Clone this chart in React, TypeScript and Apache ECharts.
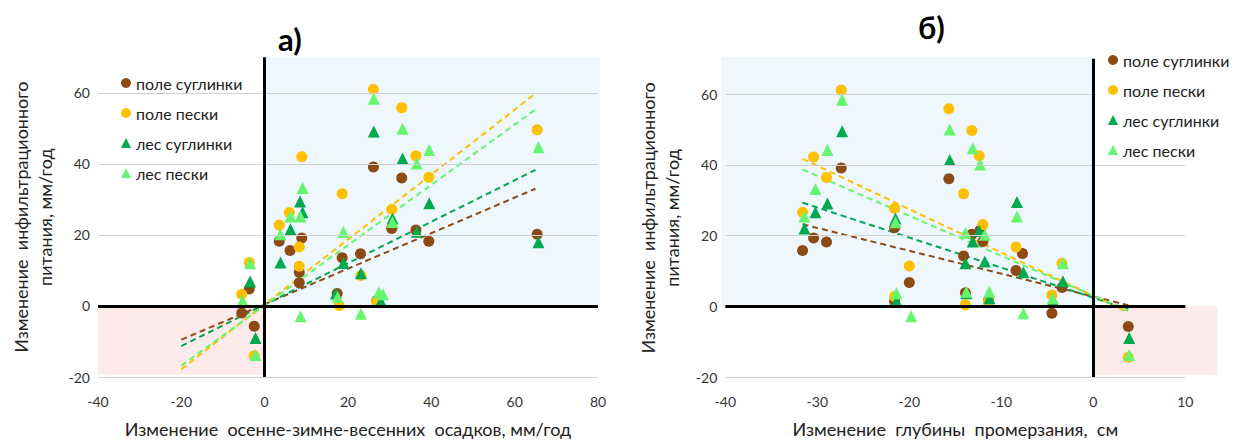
import React, { useEffect, useRef } from "react";
import * as echarts from "echarts";

const seriesNames = ["поле суглинки", "поле пески", "лес суглинки", "лес пески"];
const seriesColors = ["#8C4A14", "#FFC000", "#00A84F", "#66F56E"];
const seriesSymbols = ["circle", "circle", "triangle", "triangle"];

// Chart а): change of autumn-winter-spring precipitation vs change of infiltration recharge
const leftFieldLoam = [[-3.7,4.8],[-5.5,-2.0],[-2.5,-5.7],[3.5,18.2],[6.1,15.6],[8.9,19.1],[8.3,9.5],[8.3,6.5],[17.4,3.5],[18.6,13.6],[23.0,14.7],[26.1,39.1],[26.9,1.5],[30.5,21.8],[32.9,36.0],[36.3,21.4],[39.4,18.2],[65.4,20.2]];
const leftFieldSand = [[-3.7,12.2],[-5.5,3.3],[-2.5,-14.0],[3.5,22.8],[5.9,26.3],[8.3,16.6],[8.3,11.2],[8.9,42.0],[17.9,0.1],[18.6,31.6],[23.1,8.6],[26.1,61.0],[26.9,1.3],[30.5,27.2],[32.9,55.8],[36.3,42.3],[39.4,36.2],[65.4,49.6]];
const leftForestLoam = [[-3.5,6.9],[-2.2,-9.0],[3.8,12.2],[6.2,21.6],[8.5,29.4],[9.1,26.4],[17.1,3.5],[18.9,12.1],[23.1,9.2],[26.2,49.1],[27.9,1.3],[30.7,24.6],[33.1,41.5],[36.5,20.9],[39.5,28.9],[65.7,17.9]];
const leftForestSand = [[-3.5,12.0],[-5.3,1.5],[-2.2,-13.8],[3.8,20.2],[6.2,25.2],[8.6,25.2],[9.1,33.2],[8.6,-2.9],[17.5,2.5],[18.9,20.8],[23.1,-2.2],[26.2,58.3],[27.4,3.8],[28.4,3.3],[30.7,23.6],[33.1,49.9],[36.5,40.1],[39.5,43.9],[65.7,44.7]];
const leftTrends = [
  [[-20,-9.5],[65,33.0]],
  [[-20,-17.8],[65,59.8]],
  [[-20,-11.3],[65,38.3]],
  [[-20,-16.8],[65,55.3]],
];

// Chart б): change of freezing depth vs change of infiltration recharge
const rightFieldLoam = [[-31.6,15.8],[-30.4,19.3],[-29.0,18.2],[-27.4,39.1],[-21.6,22.2],[-21.6,1.4],[-20.0,6.7],[-15.7,36.1],[-14.1,14.2],[-13.9,3.8],[-13.2,20.4],[-12.3,21.5],[-12.0,18.3],[-11.4,1.6],[-8.4,10.1],[-7.7,14.9],[-4.5,-2.0],[-3.4,5.3],[3.8,-5.7]];
const rightFieldSand = [[-31.6,26.6],[-30.4,42.2],[-29.0,36.4],[-27.4,61.2],[-21.6,27.7],[-21.6,2.8],[-20.0,11.4],[-15.7,55.9],[-14.1,31.8],[-13.9,0.4],[-13.2,49.7],[-12.4,42.6],[-12.0,23.1],[-11.4,1.2],[-8.4,16.8],[-4.5,3.2],[-3.4,12.2],[3.8,-14.4]];
const rightForestLoam = [[-31.4,22.0],[-30.2,26.6],[-28.9,29.1],[-27.3,49.5],[-21.5,24.8],[-21.4,1.4],[-15.6,41.4],[-13.9,12.2],[-13.8,3.7],[-13.1,18.3],[-12.4,21.4],[-11.8,12.7],[-11.3,2.3],[-8.3,29.5],[-7.6,9.6],[-4.4,1.8],[-3.3,7.1],[3.9,-9.0]];
const rightForestSand = [[-31.4,25.4],[-30.2,33.2],[-28.9,44.2],[-27.3,58.4],[-21.5,23.8],[-21.4,3.7],[-19.8,-2.8],[-15.6,50.0],[-13.9,20.8],[-13.8,4.1],[-13.1,44.7],[-12.3,40.1],[-11.8,20.2],[-11.3,4.1],[-8.3,25.4],[-7.6,-2.0],[-4.4,2.3],[-3.3,12.2],[3.9,-13.8]];
const rightTrends = [
  [[-31.6,23.2],[3.8,0.3]],
  [[-31.6,41.7],[3.8,-1.7]],
  [[-31.6,29.3],[3.8,-0.8]],
  [[-31.6,38.7],[3.8,-1.3]],
];

const yGridValues = [-20, 20, 40, 60];
const leftX = { min: -40, max: 80, interval: 20 };
const rightX = { min: -40, max: 10, interval: 10 };
const yRange = { min: -20, max: 70, interval: 20 };

const leftTitle = "а)";
const rightTitle = "б)";
const leftXName = "Изменение  осенне-зимне-весенних  осадков, мм/год";
const rightXName = "Изменение  глубины  промерзания,  см";
const yName = "Изменение  инфильтрационного\nпитания, мм/год";

const FONT = "Lato, 'Open Sans', sans-serif";

export default function App() {
  const ref = useRef<HTMLDivElement>(null);
  useEffect(() => {
    document.body.style.margin = "0";
    const chart = echarts.init(ref.current!, null, { renderer: "svg" });
    const leftData = [leftFieldLoam, leftFieldSand, leftForestLoam, leftForestSand];
    const rightData = [rightFieldLoam, rightFieldSand, rightForestLoam, rightForestSand];

    const series: any[] = [];
    [0, 1].forEach((g) => {
      series.push({
        type: "scatter",
        name: "helper" + g,
        xAxisIndex: g,
        yAxisIndex: g,
        data: [],
        silent: true,
        z: 1,
        markLine: {
          silent: true,
          symbol: "none",
          label: { show: false },
          lineStyle: { color: "#D0D0D0", width: 1, type: "solid" },
          data: yGridValues.map((v) => ({ yAxis: v })),
        },
      });
    });
    [0, 1].forEach((g) => {
      const trends = g === 0 ? leftTrends : rightTrends;
      trends.forEach((t, i) => {
        series.push({
          type: "line",
          name: "trend" + g + i,
          xAxisIndex: g,
          yAxisIndex: g,
          data: t,
          symbol: "none",
          silent: true,
          z: 3,
          lineStyle: { color: seriesColors[i], width: 2, type: [6, 4] },
        });
      });
    });
    [0, 1].forEach((g) => {
      series.push({
        type: "scatter",
        name: "zero" + g,
        xAxisIndex: g,
        yAxisIndex: g,
        data: [],
        silent: true,
        z: 2,
        markLine: {
          silent: true,
          symbol: "none",
          label: { show: false },
          lineStyle: { color: "#000", width: 3, type: "solid" },
          data: [{ yAxis: 0 }, { xAxis: 0 }],
        },
      });
    });
    [0, 1].forEach((g) => {
      const d = g === 0 ? leftData : rightData;
      d.forEach((arr, i) => {
        series.push({
          type: "scatter",
          name: seriesNames[i],
          xAxisIndex: g,
          yAxisIndex: g,
          data: arr,
          symbol: seriesSymbols[i],
          symbolSize: i < 2 ? 11 : 12,
          z: 4,
          itemStyle: { color: seriesColors[i], opacity: 1 },
        });
      });
    });

    const yAxisCommon = (g: number) => ({
      type: "value",
      gridIndex: g,
      min: yRange.min,
      max: yRange.max,
      interval: yRange.interval,
      name: yName,
      nameLocation: "middle",
      nameRotate: 90,
      nameGap: 41,
      nameTextStyle: { fontSize: 18, fontFamily: FONT, color: "#222", lineHeight: 24 },
      axisLine: { show: false },
      axisTick: { show: false },
      splitLine: { show: false },
      axisLabel: {
        fontSize: 14,
        fontFamily: FONT,
        color: "#333",
        margin: 8,
        formatter: (v: number) => (v === 70 ? "" : String(v)),
      },
    });
    const xAxisCommon = (g: number, r: any, name: string) => ({
      type: "value",
      gridIndex: g,
      min: r.min,
      max: r.max,
      interval: r.interval,
      name,
      nameLocation: "middle",
      nameGap: 43,
      nameTextStyle: { fontSize: 18, fontFamily: FONT, color: "#222" },
      axisLine: { show: false, onZero: false },
      axisTick: { show: false },
      splitLine: { show: false },
      axisLabel: { fontSize: 14, fontFamily: FONT, color: "#333", margin: 17 },
    });

    const legendCommon = {
      orient: "vertical",
      data: seriesNames,
      itemWidth: 10,
      itemHeight: 10,
      itemGap: 14,
      textStyle: { fontSize: 16, fontFamily: FONT, color: "#222", padding: [0, 0, 0, 0] },
      selectedMode: false,
    };

    chart.setOption({
      animation: false,
      title: [
        { text: leftTitle, left: 273, top: 18, textStyle: { fontSize: 31, fontWeight: "bold", fontFamily: FONT, color: "#000" } },
        { text: rightTitle, left: 913, top: 6, textStyle: { fontSize: 31, fontWeight: "bold", fontFamily: FONT, color: "#000" } },
      ],
      legend: [
        { ...legendCommon, left: 116, top: 70 },
        { ...legendCommon, left: 1096, top: 42, padding: [10, 8, 2, 12], backgroundColor: "#FFFFFF", z: 20 },
      ],
      grid: [
        { left: 98, top: 57.3, width: 500, height: 326.7 },
        { left: 725.3, top: 58.8, width: 460, height: 327.2 },
      ],
      xAxis: [xAxisCommon(0, leftX, leftXName), xAxisCommon(1, rightX, rightXName)],
      yAxis: [yAxisCommon(0), yAxisCommon(1)],
      series,
    });

    const px = (g: number, p: number[]) =>
      chart.convertToPixel({ xAxisIndex: g, yAxisIndex: g }, p) as number[];
    const rectFrom = (g: number, a: number[], b: number[], color: string) => {
      const p1 = px(g, a);
      const p2 = px(g, b);
      return {
        type: "rect",
        z: -10,
        silent: true,
        shape: {
          x: Math.min(p1[0], p2[0]),
          y: Math.min(p1[1], p2[1]),
          width: Math.abs(p2[0] - p1[0]),
          height: Math.abs(p2[1] - p1[1]),
        },
        style: { fill: color },
      };
    };
    const blue = "#EDF7FD";
    const pink = "#FDEBEB";
    chart.setOption({
      graphic: [
        rectFrom(0, [0, 0], [80.5, 70], blue),
        rectFrom(0, [-40, -19.4], [0, 0], pink),
        rectFrom(1, [-40.4, 0], [0, 70.5], blue),
        rectFrom(1, [0, -19.4], [13.5, 0], pink),
      ],
    });

    return () => chart.dispose();
  }, []);
  return <div ref={ref} style={{ width: 1238, height: 443 }} />;
}
